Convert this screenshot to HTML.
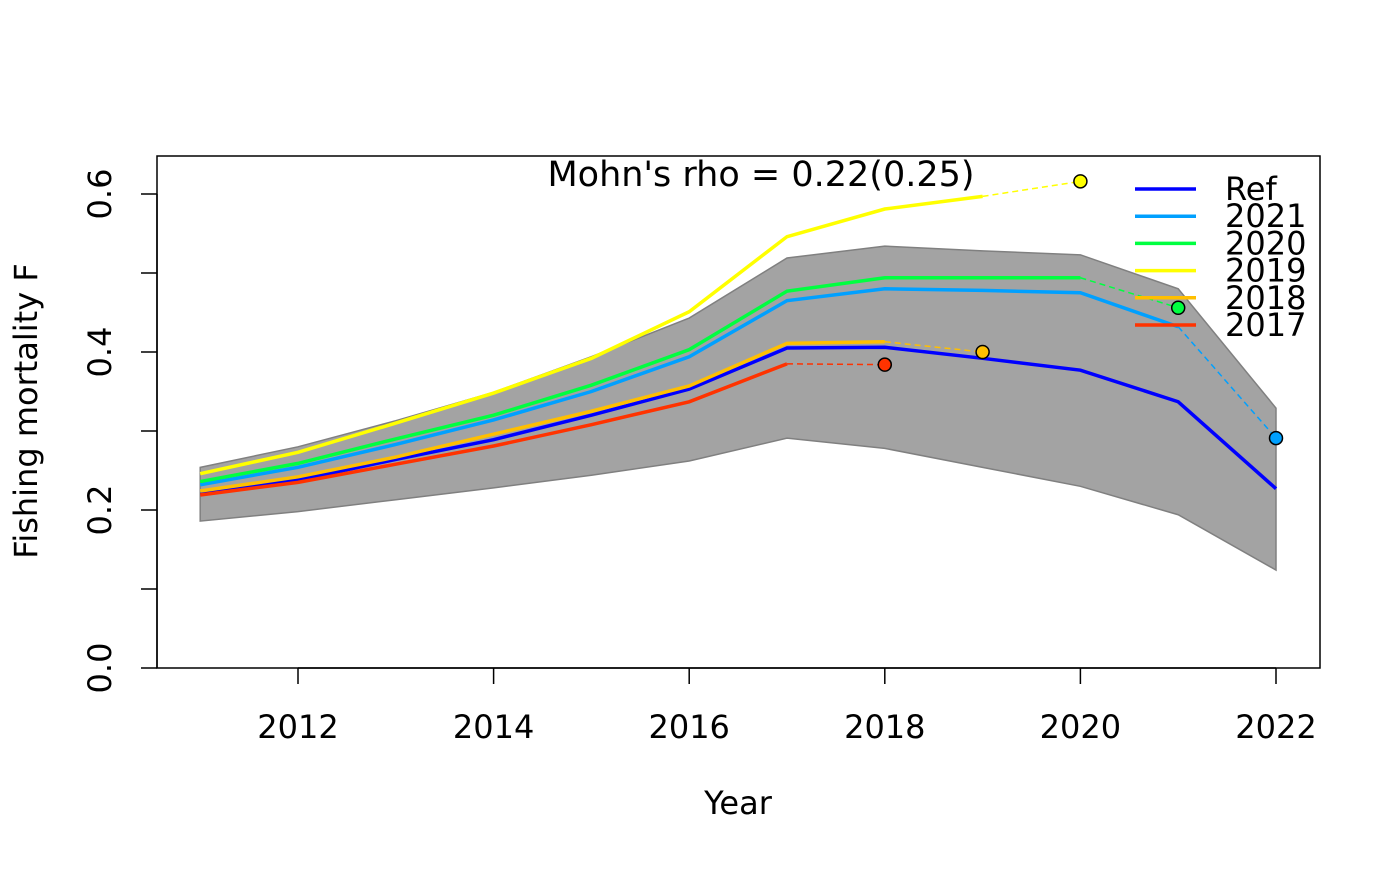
<!DOCTYPE html>
<html><head><meta charset="utf-8"><style>
body{margin:0;background:#fff}
svg text{font-family:"DejaVu Sans","Liberation Sans",sans-serif;fill:#000}
</style></head><body>
<svg id="chart" width="1400" height="865" xmlns="http://www.w3.org/2000/svg"></svg>
<script>
const years=[2011,2012,2013,2014,2015,2016,2017,2018,2019,2020,2021,2022];
const bandUpper=[0.254,0.280,0.313,0.349,0.394,0.443,0.519,0.534,0.528,0.523,0.480,0.329];
const bandLower=[0.186,0.198,0.213,0.228,0.244,0.262,0.291,0.278,0.254,0.230,0.194,0.124];
const refF=[0.220,0.238,0.264,0.289,0.320,0.353,0.405,0.406,0.392,0.377,0.337,0.227];
const peel2021=[0.232,0.254,0.283,0.314,0.350,0.394,0.465,0.480,0.478,0.475,0.432];
const peel2020=[0.236,0.259,0.290,0.320,0.358,0.403,0.477,0.494,0.494,0.494];
const peel2019=[0.246,0.273,0.310,0.348,0.392,0.451,0.546,0.581,0.597];
const peel2018=[0.224,0.242,0.267,0.296,0.325,0.357,0.411,0.413];
const peel2017=[0.219,0.235,0.258,0.281,0.308,0.337,0.385];
const projPoints=[0.291,0.456,0.616,0.400,0.384];
const seriesNames=["Ref","2021","2020","2019","2018","2017"];
const colors=["#0000FF","#00A0FF","#00FF40","#FFFF00","#FFBF00","#FF3300"];
const yTicks=[0,0.1,0.2,0.3,0.4,0.5,0.6];
const yLabels=["0.0","0.2","0.4","0.6"];
const xTicks=[2012,2014,2016,2018,2020,2022];

const NS="http://www.w3.org/2000/svg",svg=document.getElementById('chart');
const X=y=>298+(y-2012)*97.8, Y=v=>668-v*790;
function el(t,a,p){const e=document.createElementNS(NS,t);for(const k in a)e.setAttribute(k,a[k]);(p||svg).appendChild(e);return e;}

let pts=years.map((y,i)=>X(y)+','+Y(bandUpper[i])).concat(years.slice().reverse().map((y,j)=>X(y)+','+Y(bandLower[years.length-1-j])));
const band=el('polygon',{points:pts.join(' '),fill:'#A3A3A3',stroke:'#808080','stroke-width':1.5});



const peels=[peel2021,peel2020,peel2019,peel2018,peel2017];
peels.forEach((s,k)=>{
  const n=s.length;
  const d=el('line',{x1:X(years[n-1]),y1:Y(s[n-1]),x2:X(years[n]),y2:Y(projPoints[k]),stroke:colors[k+1],'stroke-width':1.5,'stroke-dasharray':'6,4'});
  
  
});
const all=[refF].concat(peels);
all.forEach((s,k)=>{
  const l=el('polyline',{points:s.map((v,i)=>X(years[i])+','+Y(v)).join(' '),fill:'none',stroke:colors[k],'stroke-width':3.5});
  
  
});
peels.forEach((s,k)=>{
  const c=el('circle',{cx:X(years[s.length]),cy:Y(projPoints[k]),r:6.5,fill:colors[k+1],stroke:'#000','stroke-width':1.5});
  
  
});

const box=el('rect',{x:157,y:156,width:1163,height:512,fill:'none',stroke:'#000','stroke-width':1.5});


el('line',{x1:157,y1:Y(0),x2:157,y2:Y(0.6),stroke:'#000','stroke-width':1.5});
yTicks.forEach(v=>el('line',{x1:141,y1:Y(v),x2:157,y2:Y(v),stroke:'#000','stroke-width':1.5}));
yLabels.forEach(s=>{const t=el('text',{x:0,y:0,'font-size':32,'text-anchor':'middle',transform:`translate(111,${Y(+s)}) rotate(-90)`});t.textContent=s;

});
el('line',{x1:X(2012),y1:668,x2:X(2022),y2:668,stroke:'#000','stroke-width':1.5});
xTicks.forEach(y=>{el('line',{x1:X(y),y1:668,x2:X(y),y2:684,stroke:'#000','stroke-width':1.5});
const t=el('text',{x:X(y),y:738,'font-size':32,'text-anchor':'middle'});t.textContent=y;

});
let t=el('text',{x:738,y:814,'font-size':32,'text-anchor':'middle'});t.textContent='Year';


t=el('text',{x:0,y:0,'font-size':32,'text-anchor':'middle',transform:'translate(37,411) rotate(-90)'});t.textContent='Fishing mortality F';


t=el('text',{x:761,y:186,'font-size':35,'text-anchor':'middle'});t.textContent="Mohn's rho = 0.22(0.25)";


seriesNames.forEach((n,i)=>{const yy=189+i*27.2;
const g=el('g',{});


el('line',{x1:1135,y1:yy,x2:1196,y2:yy,stroke:colors[i],'stroke-width':3.5},g);
const tx=el('text',{x:1225,y:yy+11,'font-size':32},g);tx.textContent=n;});
</script>
</body></html>
